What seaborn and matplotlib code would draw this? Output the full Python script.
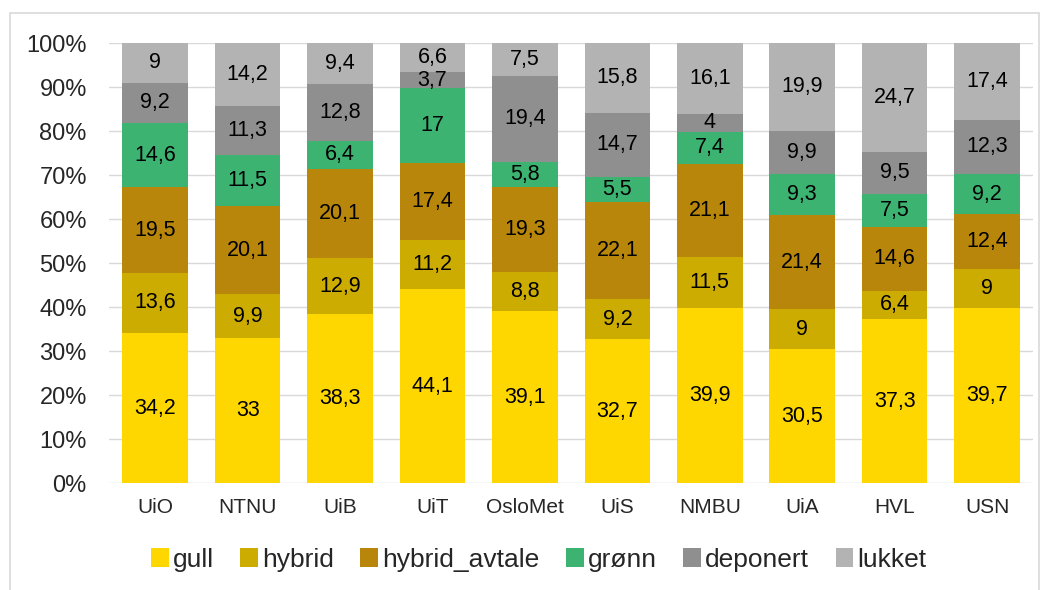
import numpy as np
import pandas as pd
import matplotlib
matplotlib.use('Agg')
import matplotlib.pyplot as plt
from matplotlib.patches import Patch, Rectangle
import seaborn as sns

institutions = ['UiO', 'NTNU', 'UiB', 'UiT', 'OsloMet', 'UiS', 'NMBU', 'UiA', 'HVL', 'USN']
categories = ['gull', 'hybrid', 'hybrid_avtale', 'grønn', 'deponert', 'lukket']

gull = [34.2, 33, 38.3, 44.1, 39.1, 32.7, 39.9, 30.5, 37.3, 39.7]
hybrid = [13.6, 9.9, 12.9, 11.2, 8.8, 9.2, 11.5, 9, 6.4, 9]
hybrid_avtale = [19.5, 20.1, 20.1, 17.4, 19.3, 22.1, 21.1, 21.4, 14.6, 12.4]
gronn = [14.6, 11.5, 6.4, 17, 5.8, 5.5, 7.4, 9.3, 7.5, 9.2]
deponert = [9.2, 11.3, 12.8, 3.7, 19.4, 14.7, 4, 9.9, 9.5, 12.3]
lukket = [9, 14.2, 9.4, 6.6, 7.5, 15.8, 16.1, 19.9, 24.7, 17.4]

colors = ['#FFD700', '#CCAC00', '#B8860B', '#3CB371', '#8F8F8F', '#B3B3B3']

sns.set_style('white')
plt.rcParams['font.family'] = ['Liberation Sans', 'DejaVu Sans']

series = [gull, hybrid, hybrid_avtale, gronn, deponert, lukket]
df = pd.DataFrame(dict(zip(categories, series)), index=institutions)
totals = df.sum(axis=1)
pct = df.div(totals, axis=0) * 100

fig = plt.figure(figsize=(10.48, 5.9), dpi=100)
ax = fig.add_axes([0.104, 0.181, 0.882, 0.746])

# outer chart border
fig.patches.append(Rectangle((0.0095, -0.01), 0.982, 0.988, transform=fig.transFigure,
                             fill=False, edgecolor='#D9D9D9', linewidth=1.2))

bottom = np.zeros(len(institutions))
for cat, col in zip(categories, colors):
    d = pd.DataFrame({'inst': institutions, 'val': pct[cat].values})
    sns.barplot(data=d, x='inst', y='val', color=col, saturation=1, bottom=bottom,
                width=0.71, ax=ax, zorder=3, linewidth=0)
    for i, (raw, h) in enumerate(zip(df[cat].values, pct[cat].values)):
        lbl = ('%g' % raw).replace('.', ',')
        ax.text(i, bottom[i] + h / 2, lbl, ha='center', va='center',
                fontsize=15.5, color='#000000', zorder=4)
    bottom += pct[cat].values

ax.set_xlim(-0.5, 9.5)
ax.set_ylim(0, 100)
ax.set_yticks(np.arange(0, 101, 10))
ax.set_yticklabels([f'{v}%' for v in range(0, 101, 10)], fontsize=17)
ax.tick_params(axis='x', labelsize=15, pad=11, length=0)
ax.tick_params(axis='y', length=0, pad=16)
ax.set_xlabel('')
ax.set_ylabel('')
ax.yaxis.grid(True, color='#D9D9D9', linewidth=1, zorder=0)
ax.set_axisbelow(True)
for s in ax.spines.values():
    s.set_visible(False)

handles = [Patch(facecolor=c, edgecolor='none') for c in colors]
fig.legend(handles, categories, loc='center', bbox_to_anchor=(0.514, 0.051), ncol=6,
           frameon=False, fontsize=19, handlelength=0.68, handleheight=0.72,
           handletextpad=0.15, columnspacing=1.0)

fig.savefig('out.png', dpi=100)
